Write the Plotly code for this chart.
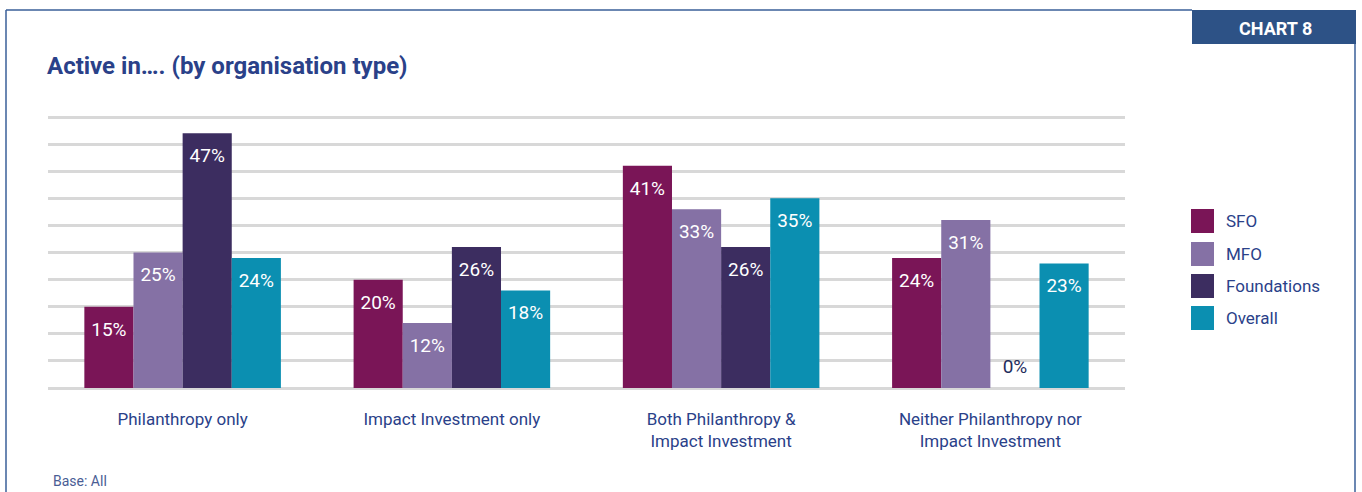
import plotly.graph_objects as go

categories = ["Philanthropy only", "Impact Investment only",
              "Both Philanthropy &<br>Impact Investment",
              "Neither Philanthropy nor<br>Impact Investment"]
series_names = ["SFO", "MFO", "Foundations", "Overall"]
sfo = [15, 20, 41, 24]
mfo = [25, 12, 33, 31]
foundations = [47, 26, 26, 0]
overall = [24, 18, 35, 23]
colors = ["#7a1557", "#8571a5", "#3c2d60", "#0b8fb1"]

FONT = "Roboto, Liberation Sans, Arial, sans-serif"
BLUE = "#2a4189"
W, H = 1362, 492
L, R, T, B = 48, 1125, 116, 388
YMAX = 50.2

def px(x):
    return (x - L) / (R - L)

def py(y):
    return (B - y) / (B - T)

GAP = 0.27
fig = go.Figure()
for name, vals, col in zip(series_names, [sfo, mfo, foundations, overall], colors):
    fig.add_trace(go.Bar(
        x=categories, y=vals, name=name, offsetgroup=name,
        marker=dict(color=col, line=dict(width=0)),
        showlegend=False, hoverinfo="skip",
    ))
for name, vals in zip(series_names, [sfo, mfo, foundations, overall]):
    fig.add_trace(go.Scatter(
        x=categories, y=[v - 2.7 if v > 0 else v + 1.9 for v in vals], offsetgroup=name,
        mode="text", text=[f"{v}%" for v in vals],
        textposition=["bottom center" if v > 0 else "top center" for v in vals],
        textfont=dict(family=FONT, size=19, color=["white" if v > 0 else "#1f2d5c" for v in vals]),
        cliponaxis=False, showlegend=False, hoverinfo="skip",
    ))

shapes = []
fc = "#3a5f98"
shapes.append(dict(type="line", xref="paper", yref="paper", x0=px(6), x1=px(1192), y0=py(10), y1=py(10), line=dict(color=fc, width=1.5)))
shapes.append(dict(type="line", xref="paper", yref="paper", x0=px(6), x1=px(6), y0=py(10), y1=py(500), line=dict(color=fc, width=1.5)))
shapes.append(dict(type="line", xref="paper", yref="paper", x0=px(1355), x1=px(1355), y0=py(44), y1=py(500), line=dict(color=fc, width=1.5)))
shapes.append(dict(type="rect", xref="paper", yref="paper", x0=px(1192), x1=px(1356), y0=py(10), y1=py(44), fillcolor="#2d5286", line=dict(width=0)))

annotations = [
    dict(text="<b>CHART 8</b>", xref="paper", yref="paper", x=px(1275), y=py(28), showarrow=False,
         font=dict(family=FONT, size=18, color="white"), xanchor="center", yanchor="middle"),
    dict(text="<b>Active in…. (by organisation type)</b>", xref="paper", yref="paper", x=px(45), y=py(66),
         showarrow=False, font=dict(family=FONT, size=24, color=BLUE), xanchor="left", yanchor="middle"),
    dict(text="Base: All", xref="paper", yref="paper", x=px(51), y=py(481), showarrow=False,
         font=dict(family=FONT, size=14, color="#4a5d95"), xanchor="left", yanchor="middle"),
]

leg_y = [221, 254, 286, 318]
for name, col, ly in zip(series_names, colors, leg_y):
    shapes.append(dict(type="rect", xref="paper", yref="paper", x0=px(1191), x1=px(1214),
                       y0=py(ly - 12), y1=py(ly + 12), fillcolor=col, line=dict(width=0)))
    annotations.append(dict(text=name, xref="paper", yref="paper", x=px(1224), y=py(ly), showarrow=False,
                            font=dict(family=FONT, size=17, color=BLUE), xanchor="left", yanchor="middle"))

fig.update_layout(
    width=W, height=H,
    margin=dict(l=L, r=W - R, t=T, b=H - B, pad=0),
    paper_bgcolor="white", plot_bgcolor="white",
    barmode="group", bargap=GAP, bargroupgap=0,
    scattermode="group", scattergap=GAP,
    showlegend=False, hovermode=False,
    shapes=shapes, annotations=annotations,
    xaxis=dict(showgrid=False, showline=False, zeroline=False, ticks="",
               tickfont=dict(family=FONT, size=17, color=BLUE), ticklabelstandoff=19),
    yaxis=dict(range=[0, YMAX], dtick=5, showticklabels=False, showgrid=True,
               gridcolor="#d8d8d8", gridwidth=3, zeroline=True, zerolinecolor="#d8d8d8", zerolinewidth=3,
               showline=False),
)

fig.write_html("out.html", config={"displayModeBar": False, "staticPlot": True},
               post_script="document.body.style.margin='0';document.body.style.overflow='hidden';")
